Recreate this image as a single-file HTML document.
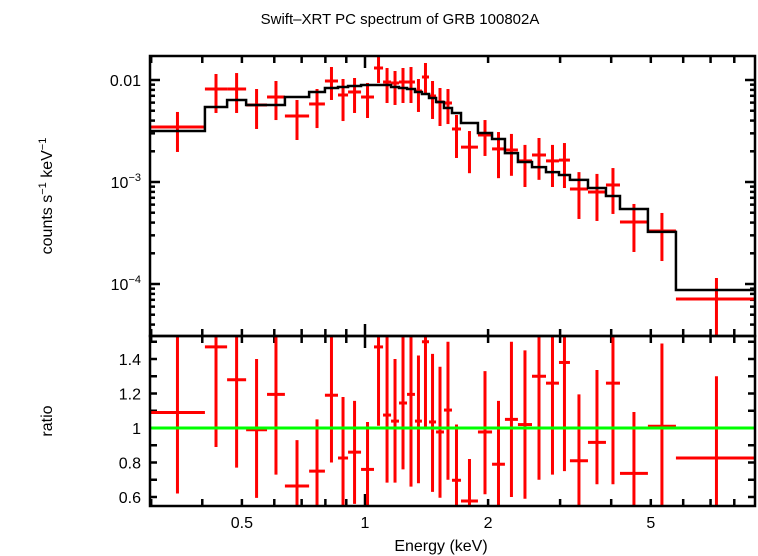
<!DOCTYPE html>
<html><head><meta charset="utf-8">
<style>
html,body{margin:0;padding:0;background:#fff;}
svg{display:block;font-family:"Liberation Sans",sans-serif;}
</style></head>
<body>
<svg id="chart" width="758" height="556" viewBox="0 0 758 556" xmlns="http://www.w3.org/2000/svg">
<defs>
<clipPath id="clipTop"><rect x="150" y="56" width="605" height="280"/></clipPath>
<clipPath id="clipBot"><rect x="150" y="337" width="605" height="169"/></clipPath>
</defs>
<text x="400" y="24" font-size="15" text-anchor="middle">Swift–XRT PC spectrum of GRB 100802A</text>
<text transform="translate(52,196) rotate(-90)" font-size="16" text-anchor="middle">counts s<tspan font-size="11" dy="-6">−1</tspan><tspan dy="6"> keV</tspan><tspan font-size="11" dy="-6">−1</tspan></text>
<text transform="translate(52,421) rotate(-90)" font-size="16" text-anchor="middle">ratio</text>
<text x="441" y="551" font-size="16" text-anchor="middle">Energy (keV)</text>
<g id="marks"></g>
<rect x="150" y="56" width="605" height="280" fill="none" stroke="#000" stroke-width="2.5"/>
<rect x="150" y="336" width="605" height="170" fill="none" stroke="#000" stroke-width="2.5"/>
</svg>
<script>
const eEdges = [0.298,0.406,0.460,0.512,0.576,0.637,0.730,0.798,0.859,0.909,0.978,1.052,1.107,1.158,1.211,1.267,1.325,1.378,1.434,1.492,1.560,1.632,1.717,1.889,2.045,2.199,2.366,2.561,2.771,2.981,3.171,3.510,3.884,4.203,4.919,5.760,9.09];
const rateVals = [3.46,8.16,8.16,5.69,6.81,4.44,5.82,9.78,7.13,7.63,6.81,13.11,9.56,9.35,9.56,9.56,7.80,10.70,6.97,6.09,5.95,3.31,2.20,2.89,2.11,2.06,1.61,1.84,1.61,1.64,0.853,0.798,0.935,0.405,0.331,0.0713];
const rateLo = [1.97,4.75,4.75,3.31,4.05,2.58,3.38,6.37,3.96,4.75,4.24,9.35,5.95,5.69,5.95,5.95,4.86,7.46,4.15,3.54,3.70,1.72,1.22,1.80,1.09,1.15,0.893,1.05,0.893,0.873,0.434,0.415,0.486,0.206,0.168,0.001];
const rateHi = [4.86,11.45,11.7,8.16,9.78,6.37,8.16,13.41,10.23,10.46,9.35,17.6,13.11,12.25,13.11,13.41,10.23,14.68,9.78,8.35,8.16,4.54,3.16,4.05,3.09,2.96,2.31,2.70,2.31,2.41,1.25,1.20,1.37,0.609,0.497,0.1146];
const modelVals = [3.16,5.44,6.37,5.69,5.69,6.81,7.63,8.35,8.54,8.73,8.93,8.93,8.93,8.54,8.35,8.16,7.63,7.29,6.66,6.09,5.31,4.75,3.79,3.02,2.64,1.92,1.57,1.40,1.25,1.17,1.05,0.873,0.729,0.543,0.324,0.0873];
const ratioVals = [1.09,1.47,1.28,0.99,1.195,0.664,0.75,1.19,0.826,0.86,0.76,1.47,1.075,1.04,1.145,1.195,1.04,1.50,1.035,0.977,1.104,0.697,0.577,0.977,0.79,1.05,1.02,1.30,1.26,1.38,0.81,0.917,1.26,0.737,1.01,0.826];
const ratioLo = [0.62,0.89,0.77,0.595,0.73,0.40,0.45,0.80,0.45,0.56,0.45,1.013,0.683,0.683,0.76,0.66,0.68,1.0,0.63,0.596,0.70,0.40,0.35,0.616,0.45,0.60,0.59,0.70,0.73,0.75,0.45,0.674,0.674,0.45,0.45,0.45];
const ratioHi = [1.60,2.0,1.85,1.40,1.70,0.93,1.05,1.70,1.18,1.157,1.035,1.9,1.6,1.40,1.6,1.7,1.42,1.9,1.43,1.355,1.50,1.02,0.82,1.33,1.157,1.50,1.45,1.8,1.8,1.9,1.195,1.336,1.8,1.093,1.49,1.30];
const xTickLabels = [0.5,1,2,5];
const ratioTickLabels = [0.6,0.8,1,1.2,1.4];

const NS='http://www.w3.org/2000/svg';
const g=document.getElementById('marks');
const X0=150,X1=755, XMIN=0.298, XMAX=8.99;
const x=e=>X0+(X1-X0)*(Math.log10(e)-Math.log10(XMIN))/(Math.log10(XMAX)-Math.log10(XMIN));
const yTop=v=>80-102*(Math.log10(v)+2);
const yBot=r=>428-172.5*(r-1);
function el(t,a,p){const e=document.createElementNS(NS,t);for(const k in a)e.setAttribute(k,a[k]);(p||g).appendChild(e);return e;}
const line=(x1,y1,x2,y2,c,w,p)=>el('line',{x1,y1,x2,y2,stroke:c,'stroke-width':w},p);

const tk=el('g',{});


for(let d=-1;d<=0;d++)for(let m=1;m<10;m++){
  const e=m*Math.pow(10,d); if(e<XMIN||e>XMAX)continue;
  const xx=x(e), L=(e===1)?12:7;
  line(xx,56,xx,56+L,'#000',2.5,tk); line(xx,336,xx,336-L,'#000',2.5,tk);
  line(xx,336,xx,336+L,'#000',2.5,tk); line(xx,506,xx,506-L,'#000',2.5,tk);
}
for(let d=-5;d<=-2;d++)for(let m=1;m<10;m++){
  const v=m*Math.pow(10,d); const yy=yTop(v); if(yy<57||yy>335)continue;
  const L=m===1?10:5;
  line(150,yy,150+L,yy,'#000',2.5,tk); line(755,yy,755-L,yy,'#000',2.5,tk);
}
for(let r=0.6;r<=1.51;r+=0.1){
  const yy=yBot(r);
  line(150,yy,157,yy,'#000',2.5,tk); line(755,yy,748,yy,'#000',2.5,tk);
}
xTickLabels.forEach(v=>{const t=el('text',{x:x(v),y:528,'font-size':16,'text-anchor':'middle'});t.textContent=String(v);

});
ratioTickLabels.forEach(v=>{const t=el('text',{x:141,y:yBot(v)+6,'font-size':16,'text-anchor':'end'});t.textContent=String(v);

});
[[0.01,'0.01',null],[1e-3,'10','−3'],[1e-4,'10','−4']].forEach(([v,b,s])=>{
  const t=el('text',{x:141,y:yTop(v)+6,'font-size':16,'text-anchor':'end'});
  
  
  if(s){t.textContent=b;const ts=el('tspan',{'font-size':11,dy:-7},t);ts.textContent=s;}else t.textContent=b;
});

const gt=el('g',{'clip-path':'url(#clipTop)'});


const u=1e-3;
rateVals.forEach((v,i)=>{
  const a=x(eEdges[i]),b=x(eEdges[i+1]),c=Math.sqrt(eEdges[i]*eEdges[i+1]);
  const p=el('g',{},gt);
  
  
  line(a,yTop(v*u),b,yTop(v*u),'#f00',3,p);
  line(x(c),yTop(rateHi[i]*u),x(c),yTop(rateLo[i]*u),'#f00',3,p);
});
let d='';
modelVals.forEach((v,i)=>{const yy=yTop(v*u);d+=(i?'L':'M')+x(eEdges[i])+','+yy+'L'+x(eEdges[i+1])+','+yy;});
const mp=el('path',{d,fill:'none',stroke:'#000','stroke-width':2.5},gt);



const gb=el('g',{'clip-path':'url(#clipBot)'});


ratioVals.forEach((v,i)=>{
  const a=x(eEdges[i]),b=x(eEdges[i+1]),c=Math.sqrt(eEdges[i]*eEdges[i+1]);
  const p=el('g',{},gb);
  
  
  line(a,yBot(v),b,yBot(v),'#f00',3,p);
  line(x(c),yBot(ratioHi[i]),x(c),yBot(ratioLo[i]),'#f00',3,p);
});
const gl=line(150,yBot(1),755,yBot(1),'#0f0',3,gb);


</script>
</body></html>
